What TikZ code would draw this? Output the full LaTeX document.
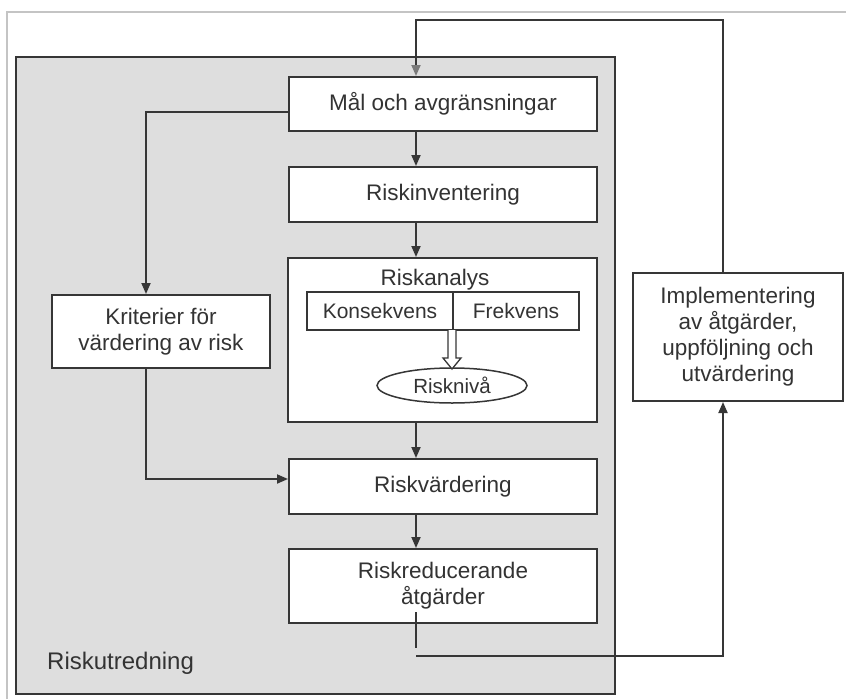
\documentclass[tikz,border=0pt]{standalone}
\usepackage{fontspec}
\setmainfont{Liberation Sans}
\usetikzlibrary{arrows.meta,shapes.geometric,calc}
\definecolor{linec}{HTML}{363636}
\definecolor{textc}{HTML}{333333}
\definecolor{panelc}{HTML}{DEDEDE}
\definecolor{framec}{HTML}{C4C4C4}
\definecolor{tipgray}{HTML}{7A7A7A}
\begin{document}
\begin{tikzpicture}[x=1pt,y=-1pt,
  txt/.style={text=textc, font=\fontsize{22.5}{26}\selectfont},
  box/.style={draw=linec, line width=2pt, fill=white, inner sep=0pt, align=center, txt},
  conn/.style={draw=linec, line width=1.8pt},
  arr/.style={conn, -{Triangle[length=11pt,width=9pt]}},
]
\useasboundingbox (0,0) rectangle (846,699);
% outer thin frame
\draw[framec, line width=1.2pt] (7,699) -- (7,12) -- (846,12);
% grey panel
\node[draw=linec, line width=2.5pt, fill=panelc, minimum width=599pt, minimum height=637pt, inner sep=0pt] (panel) at (315.5,375.5) {};
\node[txt, anchor=west, font=\fontsize{24}{26}\selectfont, inner sep=0pt] (riskutr) at (47,663) {Riskutredning};

% main boxes
\node[box, minimum width=308pt, minimum height=54pt] (mal) at (443,104) {Mål och avgränsningar};
\node[box, minimum width=308pt, minimum height=55pt] (inv) at (443,194.5) {Riskinventering};
\node[box, minimum width=309pt, minimum height=164pt] (ana) at (442.5,340) {};
\node[txt, inner sep=0pt] (anatitle) at (435,280) {Riskanalys};
\node[box, minimum width=146pt, minimum height=38pt, font=\fontsize{21}{24}\selectfont] (kons) at (380,311) {Konsekvens};
\node[box, minimum width=126pt, minimum height=38pt, font=\fontsize{21}{24}\selectfont] (frek) at (516,311) {Frekvens};
\node[box, ellipse, line width=1.5pt, minimum width=150pt, minimum height=35pt, font=\fontsize{20.5}{24}\selectfont] (niva) at (452,385.5) {Risknivå};
\draw[linec, line width=1.3pt, fill=white] (448,330) -- (448,358) -- (443,358) -- (452,369) -- (461,358) -- (456,358) -- (456,330);
\node[box, minimum width=308pt, minimum height=55pt] (vard) at (443,486.5) {Riskvärdering};
\node[box, minimum width=308pt, minimum height=74pt] (red) at (443,586) {Riskreducerande\\ åtgärder};
\node[box, minimum width=218pt, minimum height=73pt] (krit) at (161,331.5) {Kriterier för\\ värdering av risk};
\node[box, minimum width=210pt, minimum height=128pt] (impl) at (738,337) {Implementering\\ av åtgärder,\\ uppföljning och\\ utvärdering};

% helper coordinates
\coordinate (ax) at (416,0);
\coordinate (lx) at (146,0);
\coordinate (tx) at (723,0);
\coordinate (topc) at (0,20);
\coordinate (b1) at (416,612);
\coordinate (b2) at (416,648);
\coordinate (b3) at (416,656);

% vertical flow
\draw[arr] (mal.south -| ax) -- (inv.north -| ax);
\draw[arr] (inv.south -| ax) -- (ana.north -| ax);
\draw[arr] (ana.south -| ax) -- (vard.north -| ax);
\draw[arr] (vard.south -| ax) -- (red.north -| ax);

% criteria branch
\draw[arr] ($(mal.west)+(0,8)$) -| (krit.north -| lx);
\draw[arr] (krit.south -| lx) |- ($(vard.west)+(0,-7.5)$);

% feedback loop
\draw[conn] (b1) -- (b2);
\draw[arr] (b3) -| (impl.south -| tx);
\draw[conn, -{Triangle[length=11pt,width=9pt,color=tipgray]}] (impl.north -| tx) -- (tx |- topc) -- (ax |- topc) -- (mal.north -| ax);
\end{tikzpicture}
\end{document}
